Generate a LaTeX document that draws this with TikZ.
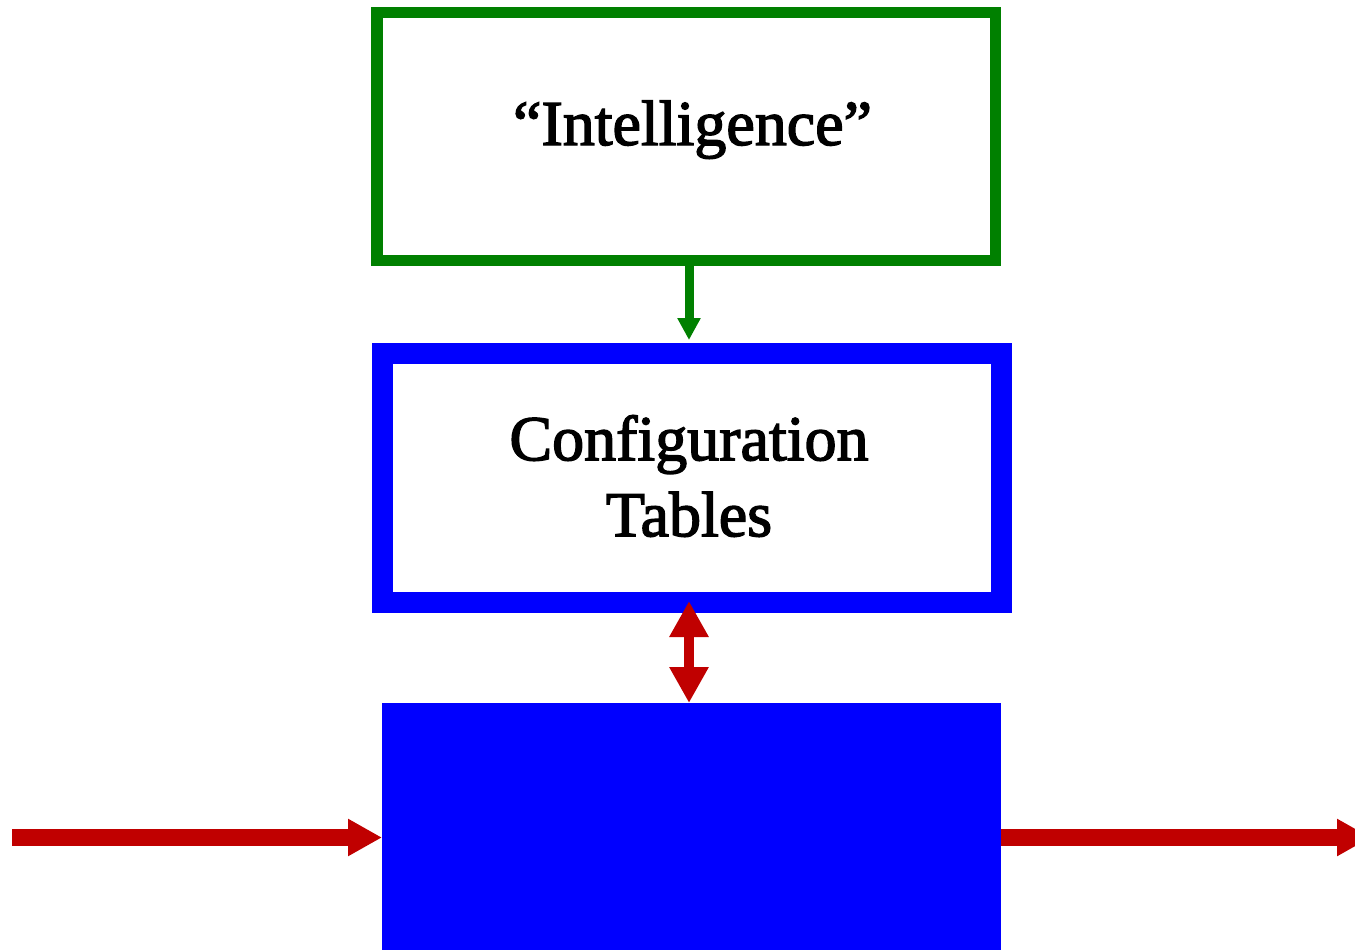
\documentclass[tikz,border=0pt]{standalone}
\usepackage{fontspec}
\setmainfont{Liberation Serif}[FakeBold=2.2]
\usetikzlibrary{arrows.meta}
\definecolor{boxgreen}{RGB}{0,128,0}
\definecolor{boxblue}{RGB}{0,0,255}
\definecolor{flowred}{RGB}{192,0,0}
\tikzset{
  label text/.style={font=\fontsize{64}{76}\selectfont, inner sep=0pt, align=center},
  plainbox/.style={inner sep=0pt, outer sep=0pt, fill=white},
}
\begin{document}
\begin{tikzpicture}[x=1pt, y=-1pt]
  \clip (0,0) rectangle (1355,950);
  \fill[white] (0,0) rectangle (1355,950);

  % control hierarchy boxes
  \node[plainbox, draw=boxgreen, line width=11.5pt,
        minimum width=618.5pt, minimum height=248pt] (intel) at (686.25,136.5) {};
  \node[label text, anchor=base] (inteltext) at (692.5,145) {“Intelligence”};

  \node[plainbox, draw=boxblue, line width=21pt,
        minimum width=619pt, minimum height=248.5pt] (config) at (692,477.75) {};
  \node[label text] (configtext) at (689,476) {Configuration\\Tables};

  \node[inner sep=0pt, outer sep=0pt, fill=boxblue,
        minimum width=619pt, minimum height=257pt] (engine) at (691.5,831.5) {};

  % column through which the vertical connectors run
  \coordinate (col) at (689,0);
  \coordinate (inflow) at (12,837.5);
  \coordinate (outflow) at (1371,837.5);

  \draw[boxgreen, line width=9pt, -{Triangle[length=22pt, width=22pt]},
        shorten >=13.5pt]
    (intel.south -| col) -- (config.north -| col);

  \draw[flowred, line width=10pt,
        {Triangle[length=36pt, width=37pt]}-{Triangle[length=36pt, width=37pt]},
        shorten <=-1pt]
    (config.south -| col) -- (engine.north -| col);

  \draw[flowred, line width=17pt, -{Triangle[length=34pt, width=35pt]}]
    (inflow) -- (engine.west |- inflow);
  \draw[flowred, line width=17pt, -{Triangle[length=34pt, width=35pt]}]
    (engine.east |- outflow) -- (outflow);
\end{tikzpicture}
\end{document}
